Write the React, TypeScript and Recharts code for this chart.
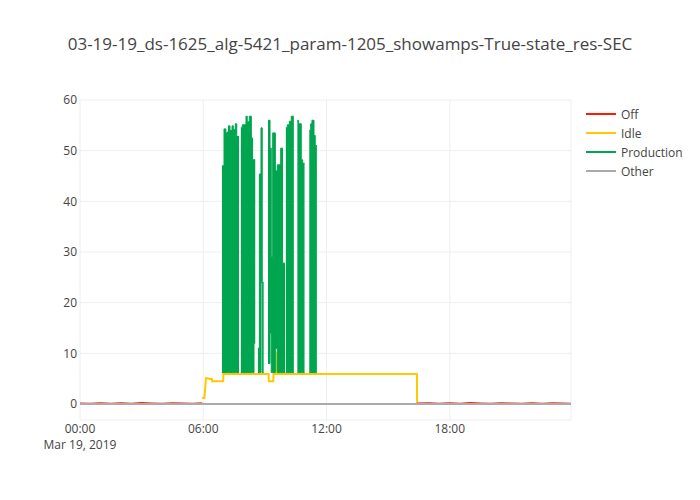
import { ComposedChart, Line, Area, XAxis, YAxis, CartesianGrid } from "recharts";

const FONT = "'Open Sans', sans-serif";
const TEXT = "#444";

const title = "03-19-19_ds-1625_alg-5421_param-1205_showamps-True-state_res-SEC";

// hours since midnight
const xTicks = [0, 6, 12, 18];
const xTickLabels = ["00:00", "06:00", "12:00", "18:00"];
const dateLabel = "Mar 19, 2019";
const yTicks = [0, 10, 20, 30, 40, 50, 60];

const seriesNames = ["Off", "Idle", "Production", "Other"];
const seriesColors = ["#ff1a00", "#ffc800", "#00a54f", "#aaaaaa"];

// Off
const offHours = [0, 0.5, 1, 1.5, 2, 2.5, 3, 3.5, 4, 4.5, 5, 5.5, 5.95, 5.96,
  16.41, 17, 17.5, 18, 18.5, 19, 19.5, 20, 20.5, 21, 21.5, 22, 22.5, 23, 23.5, 23.9];
const offValues = [0.15, 0.1, 0.2, 0.12, 0.18, 0.1, 0.22, 0.14, 0.1, 0.2, 0.15, 0.12, 0.18, null,
  0.15, 0.2, 0.12, 0.18, 0.1, 0.22, 0.14, 0.1, 0.2, 0.15, 0.12, 0.18, 0.1, 0.2, 0.14, 0.12];

// Idle
const idleHours = [5.95, 6.05, 6.08, 6.13, 6.42, 6.43, 6.97, 6.98, 9.18, 9.19, 9.41, 9.42, 9.58, 9.6, 9.62, 11.6, 16.4, 16.41];
const idleValues = [1.2, 1.2, 2.3, 5.1, 4.9, 4.5, 4.5, 5.9, 5.9, 4.5, 4.5, 5.9, 5.9, 10.3, 5.9, 5.9, 5.9, 0];

// Production (low / high of each burst column)
const prodHours = [
  6.91, 7.01, 7.1, 7.17, 7.23, 7.3, 7.4, 7.46, 7.56, 7.63, 7.74, 7.75,
  7.83, 7.9, 8.08, 8.14, 8.24, 8.34, 8.4, 8.47, 8.53, 8.54,
  8.66, 8.73, 8.81, 8.87, 8.94, 8.95,
  9.15, 9.25, 9.31, 9.38, 9.51, 9.6, 9.77, 9.86, 9.98, 9.99,
  10.02, 10.09, 10.19, 10.28, 10.41, 10.42,
  10.58, 10.64, 10.77, 10.84, 10.93, 10.94,
  11.16, 11.23, 11.29, 11.39, 11.45, 11.53,
];
const prodLow = [
  6.2, 6.2, 6.2, 6.2, 6.2, 6.2, 6.2, 6.2, 6.2, 6.2, 6.2, null,
  6.2, 6.2, 6.2, 6.2, 6.2, 6.2, 6.2, 12, 12, null,
  6.2, 6.2, 24, 6.2, 6.2, null,
  8, 14, 6.2, 6.2, 11, 6.2, 6.2, 6.2, 6.2, null,
  6.2, 6.2, 6.2, 6.2, 6.2, null,
  6.2, 6.2, 6.2, 6.2, 6.2, null,
  6.2, 6.2, 6.2, 6.2, 6.2, 6.2,
];
const prodHigh = [
  47, 54.3, 53.5, 53.7, 54.9, 54, 54.9, 54.2, 55.3, 52.8, 52.8, null,
  54.5, 55.1, 56.8, 55.7, 56.8, 52.5, 48.2, 48.2, 48.2, null,
  11, 45.4, 54.5, 24, 24, null,
  56, 50.5, 29, 53.5, 46, 47.2, 50.5, 27.8, 27.8, null,
  54.5, 55.1, 55.8, 56.8, 56.8, null,
  56, 55.3, 48.2, 47.5, 47.5, null,
  54, 55.3, 56, 53, 51, 51,
];

// Other
const otherHours = [0, 23.9];
const otherValues = [0, 0];

const offData = offHours.map((t, i) => ({ t, v: offValues[i] }));
const idleData = idleHours.map((t, i) => ({ t, v: idleValues[i] }));
const prodData = prodHours.map((t, i) => ({
  t,
  v: prodHigh[i] == null ? null : [prodLow[i], prodHigh[i]],
}));
const otherData = otherHours.map((t, i) => ({ t, v: otherValues[i] }));

function DateTick(props: any) {
  const { x, y, payload } = props;
  const i = xTicks.indexOf(payload.value);
  return (
    <g>
      <text x={x} y={y} dy={13} textAnchor="middle" fontSize={12} fill={TEXT} fontFamily={FONT}>
        {xTickLabels[i]}
      </text>
      {i === 0 && (
        <text x={x} y={y} dy={29} textAnchor="middle" fontSize={12} fill={TEXT} fontFamily={FONT}>
          {dateLabel}
        </text>
      )}
    </g>
  );
}

export default function App() {
  return (
    <div style={{ position: "absolute", left: 0, top: 0, width: 700, height: 500, background: "#fff", fontFamily: FONT }}>
      <div style={{ position: "absolute", top: 32, width: 700, textAlign: "center", fontSize: 17, color: TEXT }}>
        {title}
      </div>
      <ComposedChart width={700} height={500} margin={{ top: 100, right: 129, bottom: 0, left: 30 }}>
        <CartesianGrid stroke="#eee" strokeWidth={1} />
        <XAxis
          dataKey="t"
          type="number"
          domain={[0, 23.9]}
          ticks={xTicks}
          allowDataOverflow
          axisLine={false}
          tickLine={false}
          tickSize={0}
          tickMargin={0}
          height={80}
          tick={<DateTick />}
        />
        <YAxis
          type="number"
          domain={[-3.16, 60]}
          ticks={yTicks}
          allowDataOverflow
          axisLine={false}
          tickLine={false}
          tickSize={0}
          tickMargin={3}
          width={50}
          tick={{ fontSize: 12, fill: TEXT, fontFamily: FONT }}
        />
        <Line data={offData} dataKey="v" type="linear" stroke={seriesColors[0]} strokeWidth={1.5} dot={false} isAnimationActive={false} />
        <Area data={idleData} dataKey="v" type="linear" stroke={seriesColors[1]} strokeWidth={2} fill="none" dot={false} isAnimationActive={false} />
        <Area data={prodData} dataKey="v" type="stepAfter" stroke={seriesColors[2]} strokeWidth={1} fill={seriesColors[2]} fillOpacity={1} dot={false} isAnimationActive={false} />
        <Line data={otherData} dataKey="v" type="linear" stroke={seriesColors[3]} strokeWidth={2} dot={false} isAnimationActive={false} />
      </ComposedChart>
      <svg style={{ position: "absolute", left: 0, top: 0 }} width={700} height={500} pointerEvents="none">
        {seriesNames.map((name, i) => (
          <g key={name}>
            <line x1={586} x2={616} y1={114 + i * 19} y2={114 + i * 19} stroke={seriesColors[i]} strokeWidth={2} />
            <text x={621} y={115 + i * 19} dy="0.35em" fontSize={12} fill={TEXT} fontFamily={FONT}>
              {name}
            </text>
          </g>
        ))}
      </svg>
    </div>
  );
}
